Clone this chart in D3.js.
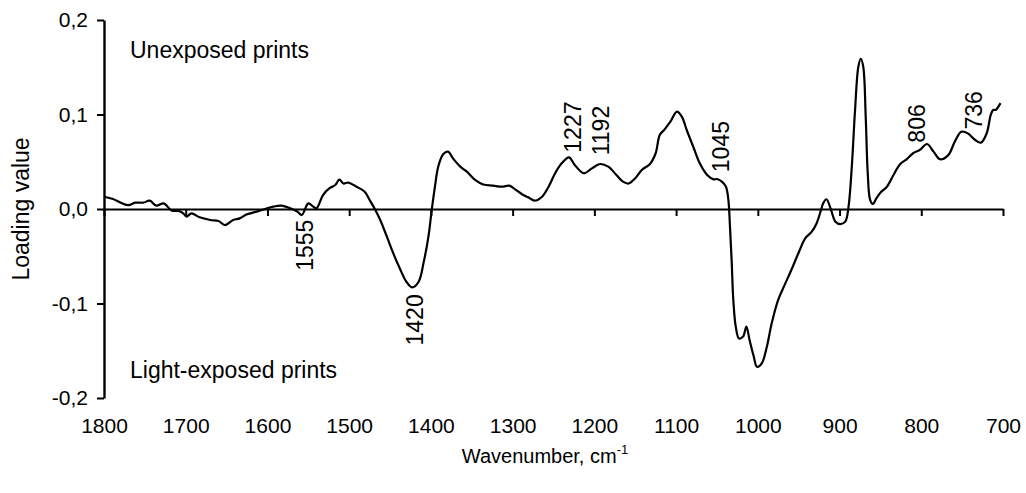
<!DOCTYPE html>
<html>
<head>
<meta charset="utf-8">
<script src="https://cdn.jsdelivr.net/npm/d3@7"></script>
<style>
  html, body { margin: 0; padding: 0; background: #fff; }
  svg { display: block; font-family: "Liberation Sans", Arial, sans-serif; }
</style>
</head>
<body>
<svg id="chart" width="1026" height="493"></svg>
<script>
// PCA loading spectrum, wavenumber (cm-1) against loading value
const wavenumbers = [
  1800, 1789, 1778, 1770, 1762, 1752, 1744, 1736, 1727, 1717, 1709, 1703, 1699, 1693, 1683,
  1670, 1660, 1652, 1642, 1634, 1625, 1613, 1603, 1593, 1583, 1572, 1563, 1558, 1550, 1544,
  1540, 1532, 1524, 1517, 1512, 1507, 1501, 1491, 1481, 1475, 1468, 1462, 1454, 1446, 1438,
  1430, 1423, 1415, 1409, 1403, 1399, 1395, 1391, 1385, 1379, 1373, 1364, 1356, 1346, 1336,
  1324, 1313, 1304, 1297, 1289, 1281, 1273, 1264, 1256, 1248, 1240, 1231, 1224, 1213, 1203,
  1193, 1183, 1173, 1165, 1158, 1150, 1142, 1132, 1125, 1120, 1114, 1107, 1099, 1093, 1087,
  1079, 1071, 1062, 1054, 1050, 1044, 1039, 1036, 1034, 1032, 1030, 1027, 1023, 1018, 1014,
  1010, 1005, 1001, 995, 989, 983, 975, 967, 959, 950, 942, 934, 928, 923, 920,
  916, 911, 905, 899, 893, 889, 885, 881, 877, 874, 871, 868, 865.5, 862.5, 859,
  855, 849, 842, 834, 826, 818, 810, 802, 793, 785, 777, 767, 759, 751, 743,
  734, 727, 720, 715, 712, 709, 707, 703
];
const loadings = [
  0.013, 0.0106, 0.006, 0.004, 0.0067, 0.0067, 0.0088, 0.0035, 0.006, -0.0018, -0.002, -0.0046, -0.008, -0.0046, -0.0088,
  -0.0116, -0.0127, -0.017, -0.0116, -0.0099, -0.0056, -0.0028, 0.0, 0.0025, 0.0035, 0.0007, -0.003, -0.0063, 0.006, 0.0025,
  0.0007, 0.0148, 0.022, 0.0254, 0.031, 0.027, 0.028, 0.0236, 0.0183, 0.0095, -0.001, -0.0116, -0.029, -0.047, -0.063,
  -0.077, -0.083, -0.077, -0.057, -0.029, -0.001, 0.024, 0.045, 0.058, 0.0607, 0.0536, 0.0448, 0.0395, 0.0307, 0.026,
  0.0247, 0.0236, 0.0247, 0.0208, 0.0159, 0.0124, 0.0088, 0.013, 0.0236, 0.0378, 0.0483, 0.0547, 0.0466, 0.0378, 0.043,
  0.0476, 0.0448, 0.036, 0.029, 0.027, 0.0325, 0.0413, 0.0476, 0.059, 0.0783, 0.0843, 0.0924, 0.103, 0.0977, 0.0836,
  0.0659, 0.0483, 0.036, 0.0314, 0.0317, 0.029, 0.0236, 0.0095, -0.02, -0.055, -0.096, -0.1245, -0.137, -0.135, -0.1245,
  -0.139, -0.156, -0.167, -0.163, -0.146, -0.121, -0.096, -0.080, -0.0646, -0.046, -0.031, -0.024, -0.015, -0.002, 0.006,
  0.0103, 0.0007, -0.0134, -0.0159, -0.0134, 0.0025, 0.045, 0.105, 0.1506, 0.159, 0.1506, 0.098, 0.038, 0.0095, 0.0053,
  0.0113, 0.0183, 0.0236, 0.036, 0.0473, 0.0526, 0.059, 0.0624, 0.0688, 0.0607, 0.0526, 0.057, 0.0712, 0.0818, 0.080,
  0.073, 0.0702, 0.080, 0.0995, 0.1048, 0.1048, 0.1066, 0.112
];

// Tick values and their printed labels (decimal comma)
const xTicks = [1800, 1700, 1600, 1500, 1400, 1300, 1200, 1100, 1000, 900, 800, 700];
const yTicks = [0.2, 0.1, 0.0, -0.1, -0.2];
const yTickLabels = ["0,2", "0,1", "0,0", "-0,1", "-0,2"];

// Annotated band positions; side tells whether the label sits above or below the trace
const bandLabels = ["1555", "1420", "1227", "1192", "1045", "806", "736"];
const bandWavenumbers = [1555, 1420, 1227, 1192, 1045, 806, 736];
const bandSides = ["below", "below", "above", "above", "above", "above", "above"];

const groupLabels = ["Unexposed prints", "Light-exposed prints"];
const groupValues = [0.16, -0.179];

const svg = d3.select("#chart");
const plot = { left: 104, right: 1003, top: 20, bottom: 398 };
const TICK_FONT = 21;
const FONT = 23;
const TITLE_FONT = 20;

const x = d3.scaleLinear().domain([1800, 700]).range([plot.left, plot.right]);
const y = d3.scaleLinear().domain([-0.2, 0.2]).range([plot.bottom, plot.top]);

const points = wavenumbers.map((w, i) => ({ w, v: loadings[i] }));

// Value of the trace at any wavenumber (linear between read points)
function loadingAt(w) {
  for (let i = 0; i < points.length - 1; i++) {
    const a = points[i], b = points[i + 1];
    if (w <= a.w && w >= b.w) {
      const t = (a.w - w) / (a.w - b.w);
      return a.v + t * (b.v - a.v);
    }
  }
  return 0;
}

// Y axis on the left edge
const yAxis = svg.append("g")
  .attr("transform", `translate(${plot.left},0)`)
  .call(d3.axisLeft(y).tickValues(yTicks).tickSize(7).tickSizeOuter(0)
    .tickFormat((d, i) => yTickLabels[i]));
yAxis.select(".domain").attr("stroke", "#000").attr("stroke-width", 2.4);
yAxis.selectAll(".tick line").attr("stroke", "#000").attr("stroke-width", 2);
yAxis.selectAll(".tick text")
  .attr("x", -16)
  .attr("font-size", TICK_FONT)
  .attr("font-family", "Liberation Sans, Arial, sans-serif")
  .attr("fill", "#000");

// X axis drawn along the zero line, labels placed beneath the plot
const xAxis = svg.append("g")
  .attr("transform", `translate(0,${y(0)})`)
  .call(d3.axisBottom(x).tickValues(xTicks).tickSize(7).tickSizeOuter(0).tickFormat(d3.format("d")));
xAxis.select(".domain").attr("stroke", "#000").attr("stroke-width", 2);
xAxis.selectAll(".tick line").attr("stroke", "#000").attr("stroke-width", 2);
xAxis.selectAll(".tick text")
  .attr("y", y(-0.2) - y(0) + 20)
  .attr("dy", "0.71em")
  .attr("font-size", TICK_FONT)
  .attr("font-family", "Liberation Sans, Arial, sans-serif")
  .attr("fill", "#000");

// Spectrum trace
const line = d3.line()
  .x(d => x(d.w))
  .y(d => y(d.v))
  .curve(d3.curveCatmullRom.alpha(0.5));

svg.append("path")
  .datum(points)
  .attr("fill", "none")
  .attr("stroke", "#000")
  .attr("stroke-width", 2.2)
  .attr("stroke-linejoin", "round")
  .attr("d", line);

// Band labels, rotated to read upwards
const gap = 9;
bandLabels.forEach((label, i) => {
  const w = bandWavenumbers[i];
  const px = x(w);
  const py = y(loadingAt(w));
  const above = bandSides[i] === "above";
  const ty = above ? py - gap : py + gap;
  svg.append("text")
    .attr("transform", `translate(${px},${ty}) rotate(-90)`)
    .attr("text-anchor", above ? "start" : "end")
    .attr("dy", "0.36em")
    .attr("font-size", FONT)
    .attr("fill", "#000")
    .text(label);
});

// Group captions inside the plot
groupLabels.forEach((label, i) => {
  svg.append("text")
    .attr("x", plot.left + 26)
    .attr("y", y(groupValues[i]))
    .attr("font-size", FONT)
    .attr("fill", "#000")
    .text(label);
});

// Axis titles
svg.append("text")
  .attr("transform", `translate(29,${y(0)}) rotate(-90)`)
  .attr("text-anchor", "middle")
  .attr("font-size", FONT)
  .attr("fill", "#000")
  .text("Loading value");

const xTitle = svg.append("text")
  .attr("x", 545)
  .attr("y", 463)
  .attr("text-anchor", "middle")
  .attr("font-size", TITLE_FONT)
  .attr("fill", "#000");
xTitle.append("tspan").text("Wavenumber, cm");
xTitle.append("tspan").attr("font-size", 13).attr("dy", -9).text("-1");
</script>
</body>
</html>
